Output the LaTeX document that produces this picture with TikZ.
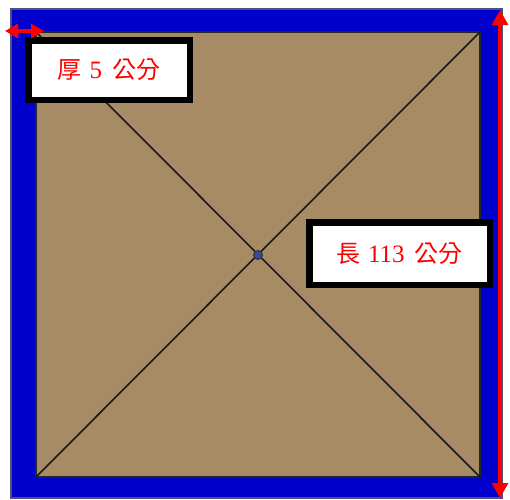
\documentclass[tikz,border=0pt]{standalone}
\usepackage{fontspec}
\setmainfont{Liberation Serif}
\newfontfamily\cjk{Noto Sans CJK TC}
\usetikzlibrary{arrows.meta}
\definecolor{frameblue}{HTML}{0000CC}
\definecolor{frameedge}{HTML}{50507A}
\definecolor{wood}{HTML}{A68B64}
\definecolor{dotblue}{HTML}{3A4A9A}
\definecolor{lblred}{HTML}{FF0000}
\tikzset{
  label box/.style={draw=black, line width=6.5pt, fill=white, inner sep=0pt,
    text=lblred, font=\fontsize{24}{28}\selectfont},
  dimarrow/.style={draw=lblred, line width=3.2pt,
    {Triangle[length=15pt,width=16pt]}-{Triangle[length=15pt,width=16pt]}},
  diag/.style={draw=black!90, line width=1.6pt},
}
\begin{document}
\begin{tikzpicture}[x=1pt,y=-1pt]
\useasboundingbox (0,0) rectangle (510,499);
% frame
\draw[fill=frameblue, draw=frameedge, line width=2pt] (11,9) rectangle (502,498);
\coordinate (tl) at (36,32);
\coordinate (tr) at (480,32);
\coordinate (br) at (480,477);
\coordinate (bl) at (36,477);
\draw[fill=wood, draw=black!85, line width=1.4pt] (tl) rectangle (br);
\draw[diag] (tl) -- (br);
\draw[diag] (tr) -- (bl);
\node[circle, fill=dotblue, draw=black!80, line width=1pt, minimum size=9pt, inner sep=0pt] (c) at (258,255) {};
% labels
\node[label box, minimum width=161.5pt, minimum height=59.5pt] (thick) at (109,70)
  {{\cjk 厚}\hspace{0.35em}{\fontsize{25}{28}\selectfont 5}\hspace{0.45em}{\cjk 公分}};
\node[label box, minimum width=180.5pt, minimum height=62.5pt] (len) at (399.5,253.5)
  {{\cjk 長}\hspace{0.3em}{\fontsize{25}{28}\selectfont 113}\hspace{0.4em}{\cjk 公分}};
% dimension arrows
\coordinate (h1) at (5,31);
\coordinate (h2) at (44,31);
\draw[dimarrow, {Triangle[length=13pt,width=14pt]}-{Triangle[length=13pt,width=14pt]}] (h1) -- (h2);
\coordinate (v1) at (500,10);
\coordinate (v2) at (500,498);
\draw[dimarrow] (v1) -- (v2);
\end{tikzpicture}
\end{document}
